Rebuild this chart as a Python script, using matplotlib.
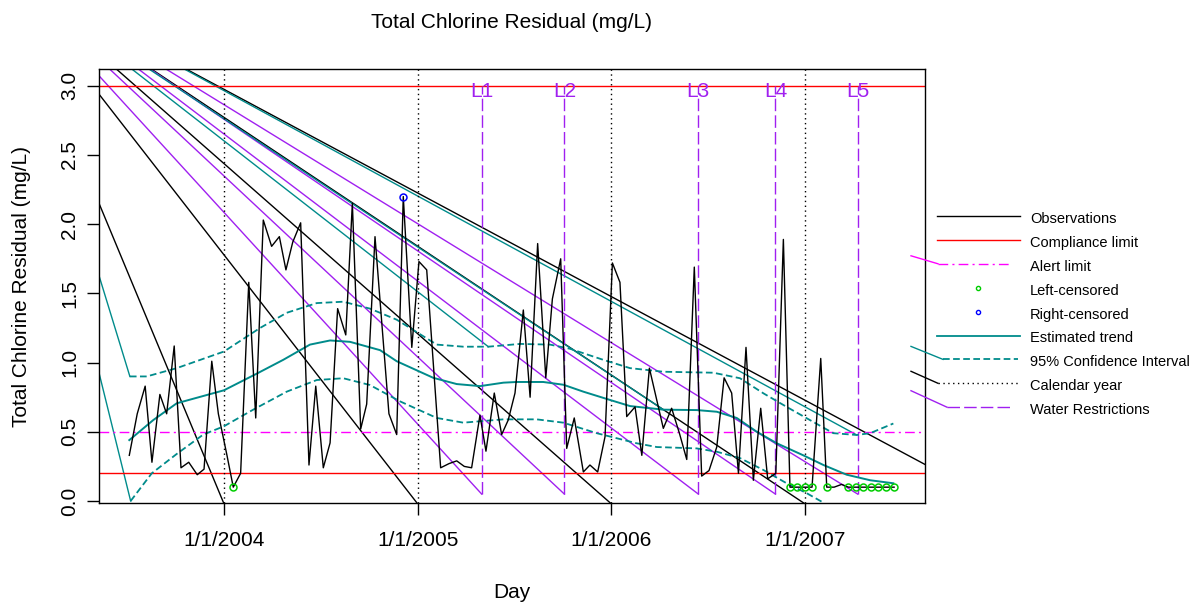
import matplotlib
matplotlib.use('Agg')
import matplotlib.pyplot as plt
import numpy as np

plt.rcParams['font.family'] = ['Liberation Sans', 'DejaVu Sans']

TEAL = '#008B8B'
PURPLE = '#A020F0'
GREEN = '#00CD00'

# ---- data (decimal years, mg/L) ----
obs_year = [2003.511, 2003.552, 2003.593, 2003.628, 2003.669, 2003.704, 2003.743, 2003.778,
            2003.818, 2003.862, 2003.897, 2003.937, 2003.971, 2004.014, 2004.048, 2004.086,
            2004.128, 2004.164, 2004.203, 2004.246, 2004.286, 2004.320, 2004.355, 2004.396,
            2004.439, 2004.474, 2004.513, 2004.548, 2004.587, 2004.629, 2004.663, 2004.706,
            2004.737, 2004.780, 2004.852, 2004.892, 2004.926, 2004.970, 2005.007, 2005.047,
            2005.119, 2005.162, 2005.202, 2005.241, 2005.279, 2005.322, 2005.353, 2005.396,
            2005.434, 2005.468, 2005.503, 2005.546, 2005.581, 2005.620, 2005.662, 2005.696,
            2005.739, 2005.770, 2005.809, 2005.856, 2005.890, 2005.930, 2005.968, 2006.006,
            2006.045, 2006.080, 2006.123, 2006.158, 2006.197, 2006.235, 2006.269, 2006.312,
            2006.352, 2006.390, 2006.429, 2006.467, 2006.505, 2006.545, 2006.583, 2006.622,
            2006.657, 2006.696, 2006.734, 2006.772, 2006.808, 2006.850, 2006.889, 2006.923,
            2006.961, 2006.999, 2007.037, 2007.082, 2007.113, 2007.151, 2007.190, 2007.225,
            2007.264, 2007.302, 2007.340, 2007.380, 2007.419, 2007.461]
obs_value = [0.33, 0.63, 0.83, 0.28, 0.77, 0.63, 1.12, 0.24,
             0.28, 0.19, 0.23, 1.01, 0.63, 0.34, 0.10, 0.20,
             1.58, 0.60, 2.03, 1.84, 1.91, 1.67, 1.87, 2.01,
             0.26, 0.83, 0.24, 0.42, 1.39, 1.20, 2.15, 0.52,
             0.70, 1.91, 0.63, 0.48, 2.20, 1.11, 1.73, 1.67,
             0.24, 0.27, 0.29, 0.25, 0.24, 0.62, 0.36, 0.78,
             0.48, 0.585, 0.78, 1.38, 0.75, 1.86, 0.89, 1.46,
             1.75, 0.38, 0.60, 0.21, 0.26, 0.21, 0.465, 1.72,
             1.58, 0.61, 0.68, 0.33, 0.96, 0.73, 0.525, 0.67,
             0.49, 0.30, 1.69, 0.18, 0.22, 0.39, 0.89, 0.78,
             0.20, 1.11, 0.15, 0.67, 0.16, 0.20, 1.89, 0.10,
             0.10, 0.10, 0.10, 1.03, 0.10, 0.10, 0.12, 0.10,
             0.10, 0.10, 0.10, 0.10, 0.10, 0.10]
# '' = measured, 'L' = left-censored, 'R' = right-censored
obs_cens = ['', '', '', '', '', '', '', '', '', '', '', '', '', '', 'L', '',
            '', '', '', '', '', '', '', '', '', '', '', '', '', '', '', '',
            '', '', '', '', 'R', '', '', '', '', '', '', '', '', '', '', '',
            '', '', '', '', '', '', '', '', '', '', '', '', '', '', '', '',
            '', '', '', '', '', '', '', '', '', '', '', '', '', '', '', '',
            '', '', '', '', '', '', '', 'L', 'L', 'L', 'L', '', 'L', '', '', 'L',
            'L', 'L', 'L', 'L', 'L', 'L']

trend_year = [2003.511, 2003.635, 2003.756, 2004.000, 2004.169, 2004.306, 2004.444, 2004.548,
              2004.651, 2004.806, 2004.892, 2005.081, 2005.202, 2005.322, 2005.443, 2005.512,
              2005.649, 2005.753, 2005.856, 2005.994, 2006.097, 2006.269, 2006.442, 2006.545,
              2006.648, 2006.752, 2006.855, 2006.992, 2007.096, 2007.216, 2007.337, 2007.457]
trend_value = [0.44, 0.585, 0.706, 0.80, 0.92, 1.02, 1.13, 1.16,
               1.15, 1.09, 1.01, 0.89, 0.845, 0.83, 0.855, 0.86,
               0.86, 0.84, 0.79, 0.73, 0.686, 0.66, 0.657, 0.645,
               0.60, 0.50, 0.417, 0.33, 0.26, 0.19, 0.15, 0.128]

ci_up_year = [2003.514, 2003.601, 2003.756, 2004.000, 2004.186, 2004.324, 2004.479, 2004.616,
              2004.754, 2004.892, 2005.099, 2005.236, 2005.365, 2005.529, 2005.684, 2005.787,
              2005.959, 2006.097, 2006.269, 2006.527, 2006.665, 2006.786, 2006.906, 2007.026,
              2007.147, 2007.268, 2007.337, 2007.457]
ci_up_value = [0.90, 0.90, 0.96, 1.08, 1.25, 1.36, 1.43, 1.44,
               1.39, 1.31, 1.13, 1.115, 1.115, 1.135, 1.13, 1.10,
               1.02, 0.96, 0.934, 0.927, 0.887, 0.778, 0.68, 0.585,
               0.49, 0.477, 0.49, 0.56]

ci_lo_year = [2003.518, 2003.627, 2003.756, 2003.893, 2004.000, 2004.151, 2004.324, 2004.479,
              2004.616, 2004.754, 2004.909, 2005.099, 2005.236, 2005.443, 2005.615, 2005.753,
              2005.925, 2006.132, 2006.235, 2006.442, 2006.545, 2006.665, 2006.786, 2006.906,
              2007.010, 2007.087]
ci_lo_value = [0.0, 0.20, 0.34, 0.48, 0.54, 0.66, 0.79, 0.874,
               0.887, 0.838, 0.72, 0.60, 0.566, 0.59, 0.59, 0.566,
               0.49, 0.417, 0.39, 0.38, 0.356, 0.31, 0.224, 0.128,
               0.056, -0.005]

compliance = [0.2, 3.0]
alert = 0.5
calendar_years = [2004, 2005, 2006, 2007]
calendar_labels = ['1/1/2004', '1/1/2005', '1/1/2006', '1/1/2007']
restr_year = [2005.331, 2005.758, 2006.450, 2006.848, 2007.273]
restr_labels = ['L1', 'L2', 'L3', 'L4', 'L5']

# stray line segments left in the original figure
diag_x0 = [2003.351, 2003.351, 2003.446, 2003.627, 2003.807,
           2003.351, 2003.411, 2003.560, 2003.621, 2003.703,
           2003.798, 2003.615, 2003.526, 2003.351, 2003.351]
diag_y0 = [2.163, 2.946, 3.119, 3.119, 3.119,
           3.078, 3.119, 3.119, 3.119, 3.119,
           3.119, 3.119, 3.119, 1.645, 0.947]
diag_x1 = [2004.0, 2005.0, 2006.0, 2007.0, 2008.0,
           2005.331, 2005.758, 2006.450, 2006.848, 2007.273,
           2007.268, 2006.269, 2005.365, 2003.514, 2003.518]
diag_y1 = [-0.02, -0.02, -0.02, -0.02, -0.02,
           0.05, 0.05, 0.05, 0.05, 0.05,
           0.477, 0.66, 1.115, 0.90, 0.0]
diag_kind = ['k'] * 5 + ['p'] * 5 + ['t'] * 5

legend_labels = ['Observations', 'Compliance limit', 'Alert limit', 'Left-censored',
                 'Right-censored', 'Estimated trend', '95% Confidence Interval',
                 'Calendar year', 'Water Restrictions']

# ---- figure ----
fig = plt.figure(figsize=(11.97, 6.06), dpi=100)
ax = fig.add_axes([0.08229, 0.16947, 0.69073, 0.71667])
ax.set_xlim(2003.352, 2007.622)
ax.set_ylim(-0.0166, 3.1214)

kind_color = {'k': 'black', 'p': PURPLE, 't': TEAL}
for x0, y0, x1, y1, k in zip(diag_x0, diag_y0, diag_x1, diag_y1, diag_kind):
    ax.plot([x0, x1], [y0, y1], color=kind_color[k], lw=1.0, zorder=2)

for c in compliance:
    ax.axhline(c, color='red', lw=1.0, zorder=2)
ax.axhline(alert, color='magenta', lw=1.0, linestyle=(0, (7, 3, 1.5, 3)), zorder=2)

for yr in calendar_years:
    ax.axvline(yr, color='black', lw=1.0, linestyle=(0, (1, 2.5)), zorder=2)

for yr, lab in zip(restr_year, restr_labels):
    ax.plot([yr, yr], [0.05, 3.0], color=PURPLE, lw=1.0, linestyle=(0, (9, 3)), zorder=2)
    ax.text(yr, 2.92, lab, color=PURPLE, fontsize=15, ha='center', va='baseline', zorder=3)

ax.plot(trend_year, trend_value, color=TEAL, lw=1.4, zorder=3)
ax.plot(ci_up_year, ci_up_value, color=TEAL, lw=1.3, linestyle=(0, (3.7, 1.9)), zorder=3)
ax.plot(ci_lo_year, ci_lo_value, color=TEAL, lw=1.3, linestyle=(0, (3.7, 1.9)), zorder=3)

ax.plot(obs_year, obs_value, color='black', lw=1.0, zorder=4)
lc = [(x, y) for x, y, c in zip(obs_year, obs_value, obs_cens) if c == 'L']
rc = [(x, y) for x, y, c in zip(obs_year, obs_value, obs_cens) if c == 'R']
ax.plot([p[0] for p in lc], [p[1] for p in lc], 'o', mfc='none', mec=GREEN, ms=5, mew=1.1, zorder=5)
ax.plot([p[0] for p in rc], [p[1] for p in rc], 'o', mfc='none', mec='blue', ms=5, mew=1.1, zorder=5)

ax.set_xticks(calendar_years)
ax.set_xticklabels(calendar_labels)
ax.set_yticks(np.arange(0, 3.01, 0.5))
ax.set_yticklabels(['%.1f' % v for v in np.arange(0, 3.01, 0.5)])
ax.tick_params(axis='x', length=8.6, width=1.0, pad=11, labelsize=15)
ax.tick_params(axis='y', length=8.4, width=1.0, pad=5.5, labelsize=15)
plt.setp(ax.get_yticklabels(), rotation=90, va='center')
for s in ax.spines.values():
    s.set_linewidth(1.0)

fig.text(511.9 / 1197, 1 - 22 / 606, 'Total Chlorine Residual (mg/L)', ha='center', va='center', fontsize=15)
fig.text(511.9 / 1197, 1 - 593 / 606, 'Day', ha='center', va='center', fontsize=15)
fig.text(22 / 1197, 1 - 286 / 606, 'Total Chlorine Residual (mg/L)', ha='center', va='center',
         rotation=90, fontsize=15)

# ---- legend, drawn in pixel space to the right of the plot ----
lax = fig.add_axes([0, 0, 1, 1])
lax.set_xlim(0, 1197)
lax.set_ylim(606, 0)
lax.axis('off')
row = [216 + 23.9 * i for i in range(len(legend_labels))]
lax.plot([937, 1020], [row[0]] * 2, color='black', lw=1.0)
lax.plot([937, 1020], [row[1]] * 2, color='red', lw=1.0)
lax.plot([911, 938], [row[2] - 8, row[2]], color='magenta', lw=1.0)
lax.plot([938, 1012], [row[2]] * 2, color='magenta', lw=1.0, linestyle=(0, (7, 3, 1.5, 3)))
lax.plot([978], [row[3]], 'o', mfc='none', mec=GREEN, ms=3, mew=1.0)
lax.plot([978], [row[4]], 'o', mfc='none', mec='blue', ms=3, mew=1.0)
lax.plot([937, 1020], [row[5]] * 2, color=TEAL, lw=1.3)
lax.plot([911, 943], [row[6] - 13, row[6]], color=TEAL, lw=1.0)
lax.plot([943, 1018], [row[6]] * 2, color=TEAL, lw=1.3, linestyle=(0, (3.7, 1.9)))
lax.plot([911, 938], [row[7] - 12, row[7]], color='black', lw=1.0)
lax.plot([938, 1018], [row[7]] * 2, color='black', lw=1.0, linestyle=(0, (1, 2.5)))
lax.plot([911, 947], [row[8] - 16.5, row[8]], color=PURPLE, lw=1.0)
lax.plot([947, 1013], [row[8]] * 2, color=PURPLE, lw=1.0, linestyle=(0, (9, 3)))
for r, lab in zip(row, legend_labels):
    lax.text(1030, r + 3, lab, fontsize=10.5, ha='left', va='center')

fig.savefig('out.png', dpi=100)
